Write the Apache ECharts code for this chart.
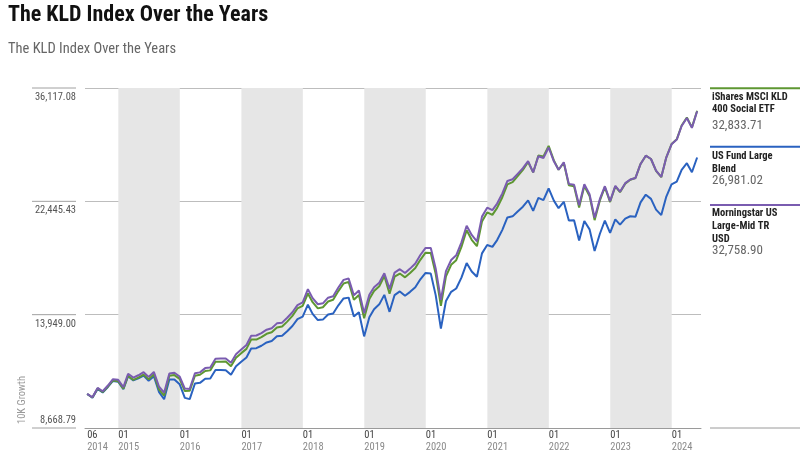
<!DOCTYPE html>
<html><head><meta charset="utf-8">
<script src="https://cdn.jsdelivr.net/npm/echarts@6/dist/echarts.min.js"></script>
<style>html,body{margin:0;padding:0;background:#fff}#c{width:807px;height:470px}</style>
</head><body><div id="c"></div>
<script>
const months = [
'2014-06','2014-07','2014-08','2014-09','2014-10','2014-11','2014-12',
'2015-01','2015-02','2015-03','2015-04','2015-05','2015-06','2015-07','2015-08','2015-09','2015-10','2015-11','2015-12',
'2016-01','2016-02','2016-03','2016-04','2016-05','2016-06','2016-07','2016-08','2016-09','2016-10','2016-11','2016-12',
'2017-01','2017-02','2017-03','2017-04','2017-05','2017-06','2017-07','2017-08','2017-09','2017-10','2017-11','2017-12',
'2018-01','2018-02','2018-03','2018-04','2018-05','2018-06','2018-07','2018-08','2018-09','2018-10','2018-11','2018-12',
'2019-01','2019-02','2019-03','2019-04','2019-05','2019-06','2019-07','2019-08','2019-09','2019-10','2019-11','2019-12',
'2020-01','2020-02','2020-03','2020-04','2020-05','2020-06','2020-07','2020-08','2020-09','2020-10','2020-11','2020-12',
'2021-01','2021-02','2021-03','2021-04','2021-05','2021-06','2021-07','2021-08','2021-09','2021-10','2021-11','2021-12',
'2022-01','2022-02','2022-03','2022-04','2022-05','2022-06','2022-07','2022-08','2022-09','2022-10','2022-11','2022-12',
'2023-01','2023-02','2023-03','2023-04','2023-05','2023-06','2023-07','2023-08','2023-09','2023-10','2023-11','2023-12',
'2024-01','2024-02','2024-03','2024-04','2024-05'];

const etfValues = [
10000,9852,10236,10083,10319,10585,10548,
10221,10798,10606,10708,10846,10636,10859,10183,9932,10792,10825,10653,
10125,10132,10798,10840,11012,11041,11449,11453,11455,11235,11639,11869,
12083,12563,12565,12694,12873,12953,13220,13274,13548,13878,14318,14477,
15245,14697,14323,14393,14739,14846,15399,15900,16007,14852,15155,13744,
14890,15400,15715,16401,15235,16359,16577,16316,16620,16964,17562,18093,
18066,16562,14473,16379,17193,17535,18543,19876,19101,18594,20629,21422,
21205,21835,22838,24107,24325,24941,25612,26471,25341,27199,27092,28334,
26655,25625,26389,24015,23913,21874,23938,22962,20742,22512,23818,22378,
23904,23320,24177,24579,24760,26262,27187,26810,25506,24842,26999,28545,
29113,30855,31912,30610,32833.71];

const fundValues = [
10000,9842,10216,10062,10298,10564,10527,
10200,10776,10584,10675,10803,10571,10772,10080,9782,10628,10628,10417,
9838,9785,10449,10478,10656,10672,11055,11059,11049,10837,11237,11448,
11653,12103,12117,12242,12415,12492,12736,12762,13011,13300,13693,13831,
14546,13994,13638,13662,13960,14017,14507,14931,14984,13838,14090,12733,
13798,14273,14566,15156,14116,15144,15379,15103,15351,15650,16182,16616,
16572,15140,13152,14771,15351,15567,16294,17323,16723,16355,18040,18689,
18544,19078,19913,20977,21075,21515,21950,22537,21565,22779,22567,23691,
22514,21807,22396,20709,20737,19049,20660,19956,18228,19568,20709,19660,
20814,20353,20882,21086,21046,22349,23082,22681,21677,21187,22895,24096,
24372,25620,26338,25356,26981.02];

const indexValues = [
10000,9862,10257,10113,10360,10638,10612,
10293,10885,10713,10816,10956,10743,10969,10307,10053,10901,10934,10761,
10227,10214,10907,10949,11146,11175,11588,11604,11606,11395,11816,12050,
12279,12767,12782,12914,13096,13177,13449,13490,13768,14089,14521,14683,
15524,14951,14571,14627,14979,15072,15633,16142,16234,15124,15433,14039,
15163,15650,15954,16600,15546,16642,16881,16615,16925,17293,17920,18462,
18454,16935,14844,16747,17544,17893,18902,20261,19491,18973,21050,21859,
21638,22235,23209,24449,24620,25193,25793,26577,25341,27118,26930,28137,
26549,25625,26442,24136,24057,22073,24107,23124,20952,22648,23914,22468,
23952,23367,24225,24604,24760,26262,27187,26810,25532,24867,26999,28516,
29084,30793,31848,30549,32758.90];

const seriesNames = ['iShares MSCI KLD\n400 Social ETF', 'US Fund Large\nBlend', 'Morningstar US\nLarge-Mid TR\nUSD'];
const yTicks = [8668.79, 13949.00, 22445.43, 36117.08];
const xTickDates = ['2014-06-30','2015-01-01','2016-01-01','2017-01-01','2018-01-01','2019-01-01','2020-01-01','2021-01-01','2022-01-01','2023-01-01','2024-01-01'];
const xTickLabels = [['06','2014'],['01','2015'],['01','2016'],['01','2017'],['01','2018'],['01','2019'],['01','2020'],['01','2021'],['01','2022'],['01','2023'],['01','2024']];
const bandYears = [2015, 2017, 2019, 2021, 2023];
const titleText = 'The KLD Index Over the Years';
const subtitleText = 'The KLD Index Over the Years';
const yAxisTitle = '10K Growth';

const FONT = "'Liberation Sans Narrow','Roboto Condensed','DejaVu Sans Condensed','Liberation Sans',sans-serif";
function monthEnd(s){const p=s.split('-').map(Number);return Date.UTC(p[0],p[1],0);}
function dayTs(s){const p=s.split('-').map(Number);return Date.UTC(p[0],p[1]-1,p[2]);}
const xs = months.map(monthEnd);
const toPairs = arr => arr.map((v,i)=>[xs[i], v]);
const xTickTs = xTickDates.map(dayTs);
const colors = ['#5e9732','#2a62c0','#7a5cb0'];
const fmt = v => v.toLocaleString('en-US',{minimumFractionDigits:2, maximumFractionDigits:2});

const chart = echarts.init(document.getElementById('c'), null, {renderer:'canvas'});
const option = {
  animation:false,
  backgroundColor:'#fff',
  title:{left:8, top:2, padding:0, itemGap:12, text:titleText, subtext:subtitleText,
    textStyle:{fontFamily:FONT, fontWeight:'bold', fontSize:22, color:'#111', lineHeight:26},
    subtextStyle:{fontFamily:FONT, fontSize:14.5, color:'#666', lineHeight:18}},
  grid:{left:85, right:106, top:88, bottom:42, containLabel:false},
  xAxis:{type:'value', min:dayTs('2014-06-17'), max:dayTs('2024-06-23'),
    axisLine:{show:true, onZero:false, lineStyle:{color:'#9a9a9a', width:1}},
    axisTick:{show:false, customValues:xTickTs},
    splitLine:{show:false},
    axisLabel:{customValues:xTickTs, align:'left', margin:1, showMinLabel:true, showMaxLabel:true,
      formatter:function(v){const i=xTickTs.indexOf(v);const l=i>=0?xTickLabels[i]:['',''];return '{m|'+l[0]+'}\n{y|'+l[1]+'}';},
      rich:{m:{color:'#444', fontSize:10.5, fontFamily:FONT, lineHeight:12},
            y:{color:'#8a8a8a', fontSize:10.5, fontFamily:FONT, lineHeight:12}}}
  },
  yAxis:{type:'log', logBase:10, min:yTicks[0], max:yTicks[yTicks.length-1],
    axisLine:{show:false}, axisTick:{show:false, customValues:yTicks},
    axisLabel:{show:false, customValues:yTicks},
    splitLine:{show:true, lineStyle:{color:'#bdbdbd', width:1}}},
  series:[
    {type:'line', name:'bands', data:[], z:-1, silent:true,
      markArea:{silent:true, itemStyle:{color:'#e6e6e6'},
        data:bandYears.map(y=>[{xAxis:Date.UTC(y,0,1)},{xAxis:Date.UTC(y+1,0,1)}])}},
    {type:'line', name:seriesNames[1], data:toPairs(fundValues), showSymbol:false, symbol:'none', z:3,
      lineStyle:{color:colors[1], width:2}, itemStyle:{color:colors[1]}},
    {type:'line', name:seriesNames[0], data:toPairs(etfValues), showSymbol:false, symbol:'none', z:4,
      lineStyle:{color:colors[0], width:2}, itemStyle:{color:colors[0]}},
    {type:'line', name:seriesNames[2], data:toPairs(indexValues), showSymbol:false, symbol:'none', z:5,
      lineStyle:{color:colors[2], width:2}, itemStyle:{color:colors[2]}}
  ]
};
chart.setOption(option);

const gfx = [];
yTicks.forEach((v,i)=>{
  const py = chart.convertToPixel({yAxisIndex:0}, v);
  gfx.push({type:'line', silent:true, shape:{x1:32,y1:py,x2:76,y2:py}, style:{stroke:'#a0a0a0', lineWidth:1}});
  const ty = i===0 ? py-8 : py+9.5;
  gfx.push({type:'text', silent:true, x:76, y:ty, style:{text:fmt(v), align:'right', textAlign:'right', verticalAlign:'middle', textVerticalAlign:'middle', fill:'#555', font:'10.5px '+FONT}});
});
gfx.push({type:'text', silent:true, x:22, y:400, rotation:Math.PI/2,
  style:{text:yAxisTitle, align:'center', textAlign:'center', verticalAlign:'middle', textVerticalAlign:'middle', fill:'#999', font:'10.5px '+FONT}});
const legendItems = [
  {values:etfValues, name:seriesNames[0], color:colors[0], lineY:88.3, nameTop:90.6, valueY:126},
  {values:fundValues, name:seriesNames[1], color:colors[1], lineY:146.7, nameTop:150, valueY:181},
  {values:indexValues, name:seriesNames[2], color:colors[2], lineY:205, nameTop:207.3, valueY:251}
];
legendItems.forEach(it=>{
  gfx.push({type:'line', silent:true, shape:{x1:710,y1:it.lineY,x2:800,y2:it.lineY}, style:{stroke:it.color, lineWidth:2}});
  gfx.push({type:'text', silent:true, x:712, y:it.nameTop, style:{text:it.name, align:'left', textAlign:'left', verticalAlign:'top', textVerticalAlign:'top', lineHeight:12.7, fill:'#222', font:'bold 10.5px '+FONT}});
  gfx.push({type:'text', silent:true, x:712, y:it.valueY, style:{text:fmt(it.values[it.values.length-1]), align:'left', textAlign:'left', verticalAlign:'middle', textVerticalAlign:'middle', fill:'#666', font:'13px '+FONT}});
});
const axisPy = chart.convertToPixel({yAxisIndex:0}, yTicks[0]);
gfx.push({type:'line', silent:true, shape:{x1:710,y1:axisPy,x2:800,y2:axisPy}, style:{stroke:'#9a9a9a', lineWidth:1}});
chart.setOption({graphic:gfx});
</script>
</body></html>
